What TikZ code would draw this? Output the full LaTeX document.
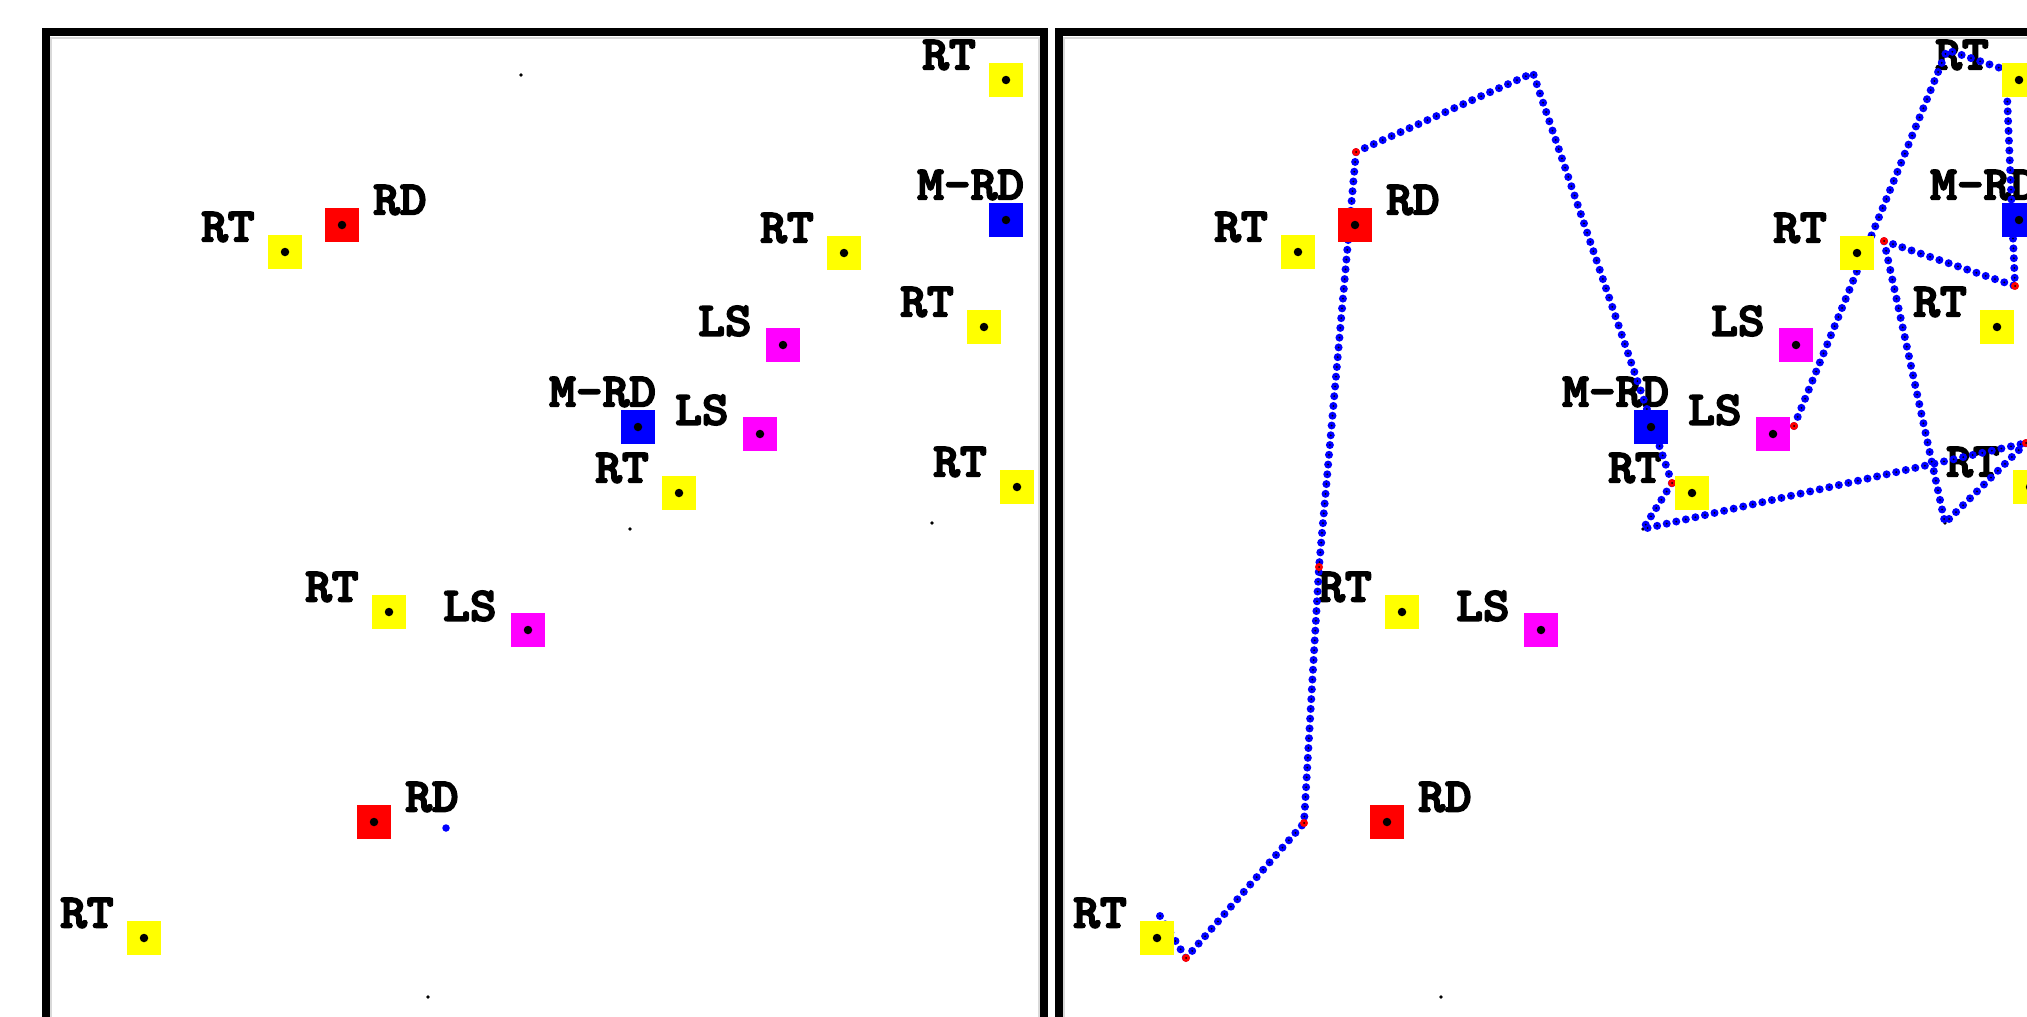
\documentclass[tikz,border=0pt]{standalone}
\usepackage{graphicx}
\usepackage{fontspec}
\newfontfamily\lblfont{lmmonolt10-bold}[Extension=.otf, FakeBold=3.5]
\definecolor{cyel}{RGB}{255,255,0}
\definecolor{cred}{RGB}{255,0,0}
\definecolor{cblu}{RGB}{0,0,255}
\definecolor{cmag}{RGB}{255,0,255}
\pgfdeclarelayer{bg}
\pgfdeclarelayer{fg}
\pgfsetlayers{bg,main,fg}
\tikzset{
  sq/.style={minimum size=34pt, inner sep=0pt, draw=none},
  rtsq/.style={sq, fill=cyel},
  rdsq/.style={sq, fill=cred},
  mrdsq/.style={sq, fill=cblu},
  lssq/.style={sq, fill=cmag},
  lbl/.style={anchor=west, inner sep=0pt, font=\lblfont\fontsize{48}{48}\selectfont},
  ctr/.style={circle, fill=black, inner sep=0pt, minimum size=8.5pt},
  tiny/.style={circle, fill=black, inner sep=0pt, minimum size=2pt},
  wp/.style={circle, fill=black, inner sep=0pt, minimum size=3.8pt},
  bdot/.style={circle, fill=cblu, inner sep=0pt, minimum size=7.5pt},
  reddot/.style={circle, fill=cred, inner sep=0pt, minimum size=8pt},
  trail/.style={draw=cblu, line width=8pt, line cap=round, dash pattern=on 0pt off 9.8pt},
  trailc/.style={draw=black, line width=2pt, line cap=round, dash pattern=on 0pt off 9.8pt},
  framebox/.style={draw=black, line width=8pt},
  frameinner/.style={draw=black!15, line width=2pt},
}
\newcommand{\lb}[1]{\scalebox{1.06}[1]{#1}}
% #1 name, #2 style, #3 label, #4 dx, #5 dy, #6 x, #7 y
\newcommand{\agent}[7]{%
  \begin{pgfonlayer}{bg}\node[lbl] (#1l) at ({#6+#4},{#7+#5}) {\lb{#3}};\end{pgfonlayer}
  \begin{pgfonlayer}{fg}\node[#2] (#1) at (#6,#7) {};\node[ctr] (#1c) at (#1.center) {};\end{pgfonlayer}}
\newcommand{\rt}[3]{\agent{#1}{rtsq}{RT}{-84}{-25}{#2}{#3}}
\newcommand{\rdx}[3]{\agent{#1}{rdsq}{RD}{31}{-25}{#2}{#3}}
\newcommand{\mrd}[3]{\agent{#1}{mrdsq}{M-RD}{-89}{-35}{#2}{#3}}
\newcommand{\lsx}[3]{\agent{#1}{lssq}{LS}{-85}{-24}{#2}{#3}}
\newcommand{\panelcontent}{%
  \draw[framebox] (46,1100) |- (1044,32) -- (1044,1100);
  \draw[frameinner] (51,1100) |- (1039,38) -- (1039,1100);
  \node[wp] (w1) at (521,75) {};
  \node[wp] (w2) at (630,529) {};
  \node[wp] (w3) at (932,523) {};
  \node[wp] (w4) at (428,997) {};
  \rt{t1}{1006}{80}
  \rt{t2}{285}{252}
  \rt{t3}{844}{253}
  \rt{t4}{984}{327}
  \rt{t5}{679}{493}
  \rt{t6}{1017}{487}
  \rt{t7}{389}{612}
  \rt{t8}{144}{938}
  \rdx{d1}{342}{225}
  \rdx{d2}{374}{822}
  \mrd{m1}{1006}{220}
  \mrd{m2}{638}{427}
  \lsx{s1}{783}{345}
  \lsx{s2}{760}{434}
  \lsx{s3}{528}{630}
}
\begin{document}
\begin{tikzpicture}[x=1pt,y=-1pt]
\useasboundingbox (0,0) rectangle (2027,1017);
\begin{pgfonlayer}{bg}\fill[white] (0,0) rectangle (2027,1017);\end{pgfonlayer}
\begin{scope}[name prefix=L-]
  \panelcontent
  \node[bdot] (bd) at (446,828) {};
\end{scope}
\begin{scope}[xshift=1013pt, name prefix=R-]
  \panelcontent
\end{scope}
% trajectory A
\coordinate (a0) at (1160,916);
\coordinate (a1) at (1186,958);
\coordinate (a2) at (1304,823);
\coordinate (a3) at (1319,567);
\coordinate (a4) at (1356,152);
\coordinate (a5) at (1533,73);
\coordinate (a6) at (1672,483);
\coordinate (a7) at (1643,529);
\coordinate (a8) at (2026,443);
% trajectory B
\coordinate (b0) at (1794,426);
\coordinate (b1) at (1947,50);
\coordinate (b2) at (2006,70);
\coordinate (b3) at (2015,286);
\coordinate (b4) at (1884,241);
\coordinate (b5) at (1945,523);
\draw[trail] (a0) -- (a1) -- (a2) -- (a3) -- (a4) -- (a5) -- (a6) -- (a7) -- (a8);
\draw[trailc] (a0) -- (a1) -- (a2) -- (a3) -- (a4) -- (a5) -- (a6) -- (a7) -- (a8);
\draw[trail] (b0) -- (b1) -- (b2) -- (b3) -- (b4) -- (b5) -- (a8);
\draw[trailc] (b0) -- (b1) -- (b2) -- (b3) -- (b4) -- (b5) -- (a8);
\foreach \p in {a1,a2,a3,a4,a6,a8,b0,b3,b4}{
  \node[reddot] (\p r) at (\p) {};
  \node[tiny] (\p rc) at (\p) {};
}
\end{tikzpicture}
\end{document}
